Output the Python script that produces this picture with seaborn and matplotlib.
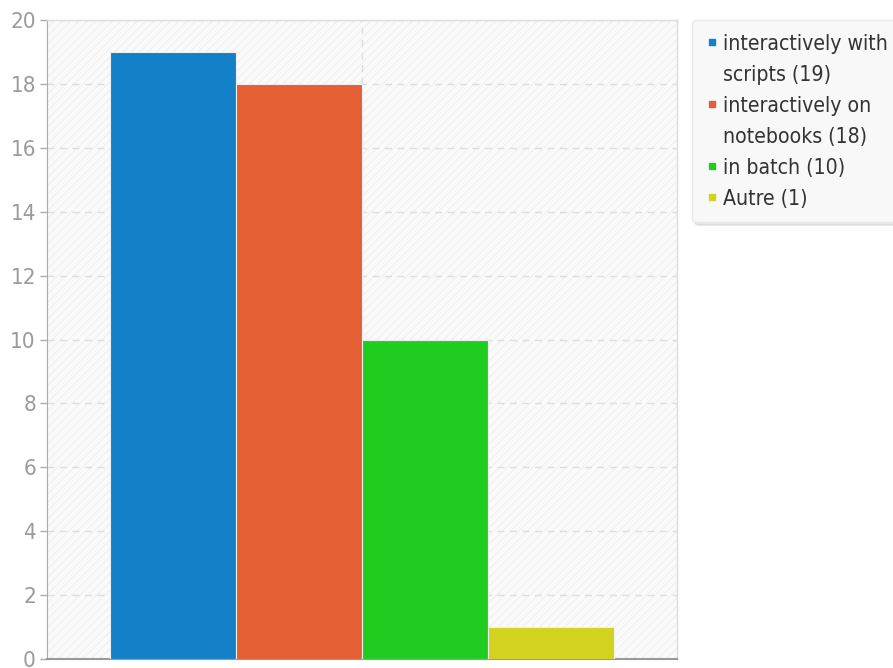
import matplotlib
matplotlib.use("Agg")
import matplotlib.pyplot as plt
import seaborn as sns
import pandas as pd
from matplotlib.patches import Rectangle
from matplotlib.lines import Line2D

categories = ["interactively with scripts", "interactively on notebooks", "in batch", "Autre"]
values = [19, 18, 10, 1]
legend_labels = ["interactively with\nscripts (19)", "interactively on\nnotebooks (18)", "in batch (10)", "Autre (1)"]
colors = ["#1380c8", "#e45f33", "#21cc21", "#d2d21f"]

sns.set_style("white")
plt.rcParams["font.family"] = ["DejaVu Sans"]
plt.rcParams["font.stretch"] = "condensed"
plt.rcParams["hatch.linewidth"] = 0.6

df = pd.DataFrame({"cat": categories, "val": values})

fig = plt.figure(figsize=(8.93, 6.68), dpi=100)
ax = fig.add_axes([47 / 893, 9 / 668, 630 / 893, 639 / 668])

# fond hachuré
ax.add_patch(Rectangle((0, 0), 1, 1, transform=ax.transAxes, facecolor="#fafafa",
                       edgecolor="#ececec", hatch="////", lw=0, zorder=0))

sns.barplot(data=df, x="cat", y="val", hue="cat", palette=colors, saturation=1, width=1.0,
            dodge=False, legend=False, edgecolor="#f0f0f0", linewidth=0.8, ax=ax, zorder=3)

ax.set_xlim(-1, 4)
ax.set_ylim(0, 20)
ax.set_yticks(range(0, 21, 2))
ax.set_xticks([1.5])
ax.set_xticklabels([])
ax.tick_params(axis="x", length=0)
ax.tick_params(axis="y", length=5, width=1, color="#aaaaaa", labelcolor="#9a9a9a",
               labelsize=16, left=True, pad=3)
ax.set_xlabel("")
ax.set_ylabel("")
ax.grid(True, linestyle=(0, (5, 4)), color="#dddddd", linewidth=1, zorder=1)
ax.set_axisbelow(True)

for side in ["top", "right"]:
    ax.spines[side].set_color("#dddddd")
    ax.spines[side].set_linewidth(1)
ax.spines["left"].set_color("#aaaaaa")
ax.spines["bottom"].set_color("#999999")
ax.spines["bottom"].set_linewidth(1.5)

# une ligne de légende par ligne de texte, le carré seulement sur la première
handles, labels = [], []
for lab, c in zip(legend_labels, colors):
    for i, line in enumerate(lab.split("\n")):
        if i == 0:
            handles.append(Line2D([], [], marker="s", linestyle="", markersize=4.5, color=c))
        else:
            handles.append(Line2D([], [], linestyle="", marker=""))
        labels.append(line)

leg = fig.legend(handles, labels, loc="upper left", bbox_to_anchor=(692 / 893, 1 - 20 / 668),
                 frameon=True, fancybox=True, shadow={"color": "#cccccc", "alpha": 0.5},
                 fontsize=15.2, handlelength=0.55, handletextpad=0.25, labelspacing=0.52,
                 borderpad=0.65, borderaxespad=0, framealpha=1)
leg.get_frame().set_facecolor("#f8f8f8")
leg.get_frame().set_edgecolor("#e8e8e8")
for t in leg.get_texts():
    t.set_color("#333333")

fig.savefig("out.png", dpi=100)
